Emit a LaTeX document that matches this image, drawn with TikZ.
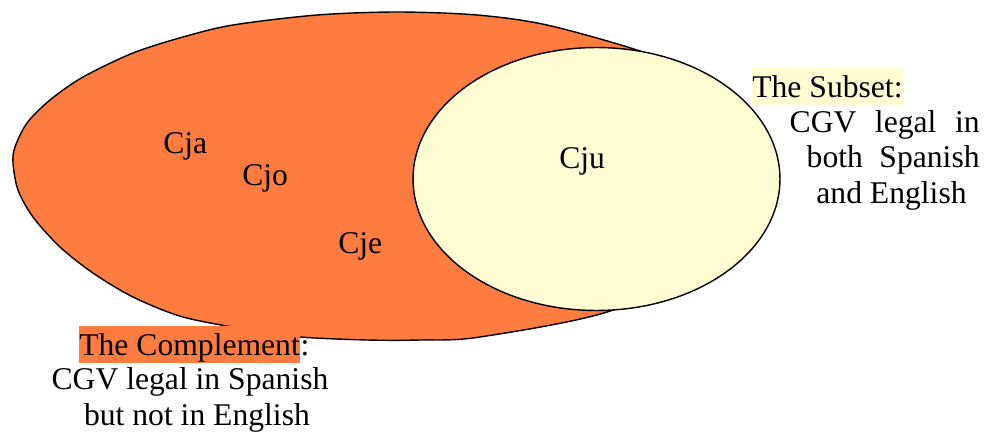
\documentclass[tikz,border=0pt]{standalone}
\usepackage{fontspec}
\setmainfont{Liberation Serif}
\usepackage{tikz}
\usepackage{xcolor}
\usetikzlibrary{positioning, calc}

\definecolor{complorange}{RGB}{255,124,64}
\definecolor{subyellow}{RGB}{255,253,210}

\begin{document}
\begin{tikzpicture}[x=0.02cm, y=-0.02cm,
    lbl/.style={inner sep=0pt, font=\fontsize{18}{20}\selectfont},
    hl/.style={lbl, text height=16.5pt, text depth=4.5pt}]
    \useasboundingbox (0,0) rectangle (991,433);
    % the whole set and the subset
    \draw[line width=0.8pt, fill=complorange] plot[smooth cycle, tension=0.5] coordinates {
        (13,163) (15,147) (27,123) (50,100) (83,77) (133,53) (183,37) (233,25)
        (317,15) (397,12) (477,15) (547,25) (643,52) (700,78) (728,160) (705,255)
        (613,310) (480,337) (420,340) (367,340) (300,337) (250,330) (183,317)
        (133,297) (93,273) (60,247) (33,217) (18,190)};
    \draw[line width=0.8pt, fill=subyellow] (596.5,179) ellipse [x radius=3.67cm, y radius=2.63cm];
    % members
    \node[lbl, anchor=base west] (cja) at (163,153) {Cja};
    \node[lbl, anchor=base west] (cjo) at (242,185) {Cjo};
    \node[lbl, anchor=base west] (cje) at (338,253) {Cje};
    \node[lbl, anchor=base west] (cju) at (559,168) {Cju};
    % labels
    \node[hl, fill=subyellow, anchor=base west] (subset) at (752,97) {The Subset:};
    \node[lbl, align=right, anchor=base east] (subsetdef) at (980,203)
        {\makebox[3.8cm][s]{CGV legal in}\\ \makebox[3.46cm][s]{both Spanish}\\ and English\hspace*{0.26cm}};
    \node[hl, fill=complorange, anchor=base west] (compl) at (79,355) {The Complement};
    \node[lbl, anchor=base west] (colon) at (compl.base east) {:};
    \node[lbl, align=center, anchor=base] (compldef) at (190,425)
        {CGV legal in Spanish\\ \hspace*{0.28cm}but not in English};
\end{tikzpicture}
\end{document}
